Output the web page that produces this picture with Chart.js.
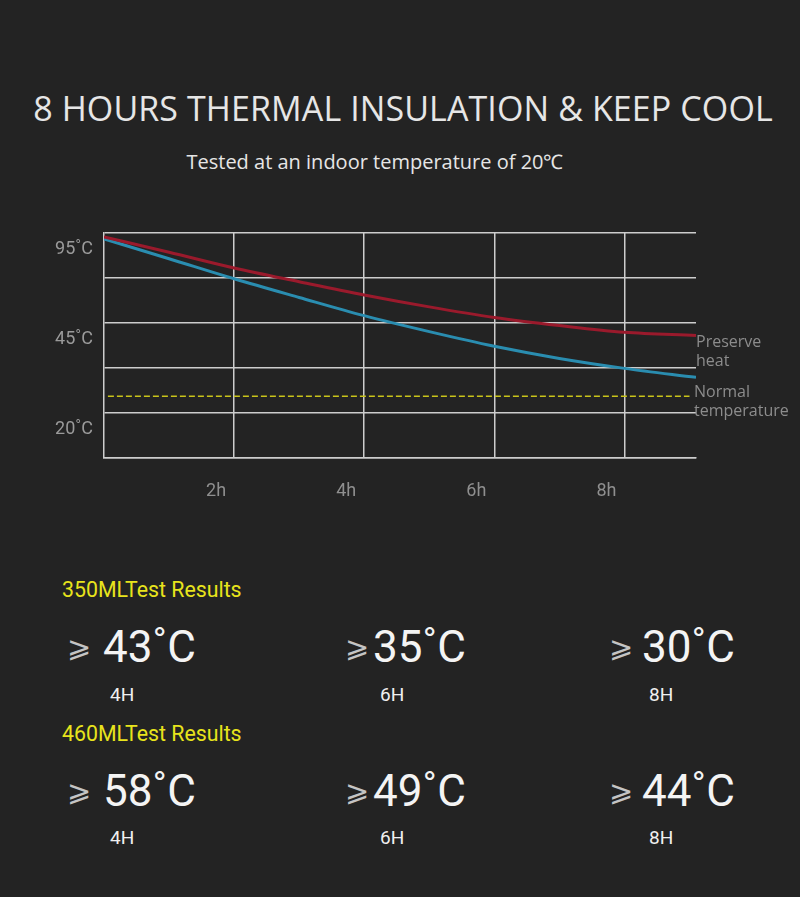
<!DOCTYPE html>
<html>
<head>
<meta charset="utf-8">
<script src="https://cdn.jsdelivr.net/npm/chart.js@4/dist/chart.umd.min.js"></script>
<style>
  html, body { margin:0; padding:0; background:#232323; }
  body { width:800px; height:897px; position:relative; overflow:hidden; font-family:"Open Sans", sans-serif; }
  .t { position:absolute; white-space:nowrap; line-height:1; transform:translateY(-50%); }
  #title { left:0; width:806px; text-align:center; top:108px; font-size:34px; color:#e6e6e6; font-weight:500; letter-spacing:0.1px; }
  #sub { left:0; width:750px; text-align:center; top:162px; font-size:20px; color:#e6e6e6; font-weight:500; }
  .lg { font-family:"Open Sans", sans-serif; font-size:16px; color:#8c8c8c; line-height:19px; }
  .hdr { font-family:Roboto, sans-serif; font-size:21.3px; color:#e8e41c; left:62px; font-weight:400; }
  .ge { font-family:"DejaVu Sans", sans-serif; font-size:29px; color:#c4c4c4; font-weight:300; }
  .big { font-family:Roboto, sans-serif; font-size:44px; color:#f4f4f4; font-weight:400; }
  .h { font-family:Roboto, sans-serif; font-size:19px; color:#f0f0f0; }
  #chartWrap { position:absolute; left:0; top:211px; width:800px; height:300px; }
</style>
</head>
<body>
<div id="title" class="t">8 HOURS THERMAL INSULATION &amp; KEEP COOL</div>
<div id="sub" class="t">Tested at an indoor temperature of 20℃</div>

<div id="chartWrap"><canvas id="c" width="800" height="300"></canvas></div>

<div class="t lg" style="left:696px; top:351px;">Preserve<br>heat</div>
<div class="t lg" style="left:694px; top:401px;">Normal<br>temperature</div>

<div id="results"></div>

<script>
// ---- chart data ----
const hours = [0, 1, 2, 3, 4, 5, 6, 7, 8, 9.1];
const preserveHeat = [98.2, 91.4, 84.4, 78.3, 72.4, 67.1, 62.4, 58.8, 55.8, 54.4];
const keepCool = [97.3, 88.5, 79.6, 71.3, 63.2, 56.1, 49.6, 44.2, 39.8, 35.8];
const normalHours = [0.06, 9.0];
const normalTemp = [27.4, 27.4];
const xTicks = [2, 4, 6, 8];
const xTickLabels = ['2h', '4h', '6h', '8h'];
const yGrid = [0, 20, 40, 60, 80, 100];
const yTickLabels = { 100: '95˚C', 60: '45˚C', 20: '20˚C' };

// ---- results data ----
const groups = ['350MLTest Results', '460MLTest Results'];
const resultHours = ['4H', '6H', '8H'];
const results350 = [43, 35, 30];
const results460 = [58, 49, 44];

const pts = (xs, ys) => xs.map((x, i) => ({ x, y: ys[i] }));
const gridCol = '#cdcdcd';

new Chart(document.getElementById('c'), {
  type: 'line',
  data: {
    datasets: [
      { data: pts(hours, preserveHeat), borderColor: '#9a1a2c', borderWidth: 3, pointRadius: 0, cubicInterpolationMode: 'monotone' },
      { data: pts(hours, keepCool), borderColor: '#2a8db0', borderWidth: 3, pointRadius: 0, cubicInterpolationMode: 'monotone' },
      { data: pts(normalHours, normalTemp), borderColor: '#c9c41a', borderWidth: 1.5, borderDash: [6, 3], pointRadius: 0 }
    ]
  },
  options: {
    responsive: false,
    animation: false,
    layout: { padding: { top: 3, right: 104, bottom: 0, left: 0 } },
    plugins: { legend: { display: false }, tooltip: { enabled: false } },
    scales: {
      x: {
        type: 'linear', min: 0, max: 9.1,
        afterBuildTicks: s => { s.ticks = xTicks.map(v => ({ value: v })); },
        afterFit: s => { s.height = 53; },
        grid: { color: gridCol, lineWidth: 1.5, drawTicks: false },
        border: { color: gridCol, width: 1.5 },
        ticks: {
          padding: 23, labelOffset: -18, color: '#8f8f8f',
          font: { family: 'Roboto', size: 18 },
          callback: v => xTickLabels[xTicks.indexOf(v)] ?? ''
        }
      },
      y: {
        type: 'linear', min: 0, max: 100,
        afterBuildTicks: s => { s.ticks = yGrid.map(v => ({ value: v })); },
        afterFit: s => { s.width = 104; },
        grid: { color: gridCol, lineWidth: 1.5, drawTicks: false },
        border: { color: gridCol, width: 1.5 },
        ticks: {
          padding: 11, labelOffset: 17, color: '#9a9a9a',
          font: { family: 'Roboto', size: 18 },
          callback: v => yTickLabels[v] ?? ''
        }
      }
    }
  }
});

// ---- results text ----
const res = document.getElementById('results');
const colGe = [67, 345, 609];
const colNum = [103, 373, 642];
const colH = [110, 380, 649];
const rowHdr = [590, 734];
const rowBig = [647, 791];
const rowH = [694, 837];
[results350, results460].forEach((vals, r) => {
  let html = `<div class="t hdr" style="top:${rowHdr[r]}px">${groups[r]}</div>`;
  vals.forEach((v, i) => {
    html += `<div class="t ge" style="left:${colGe[i]}px; top:${rowBig[r]}px">⩾</div>`;
    html += `<div class="t big" style="left:${colNum[i]}px; top:${rowBig[r]}px">${v}˚C</div>`;
    html += `<div class="t h" style="left:${colH[i]}px; top:${rowH[r]}px">${resultHours[i]}</div>`;
  });
  res.insertAdjacentHTML('beforeend', html);
});
</script>
</body>
</html>
